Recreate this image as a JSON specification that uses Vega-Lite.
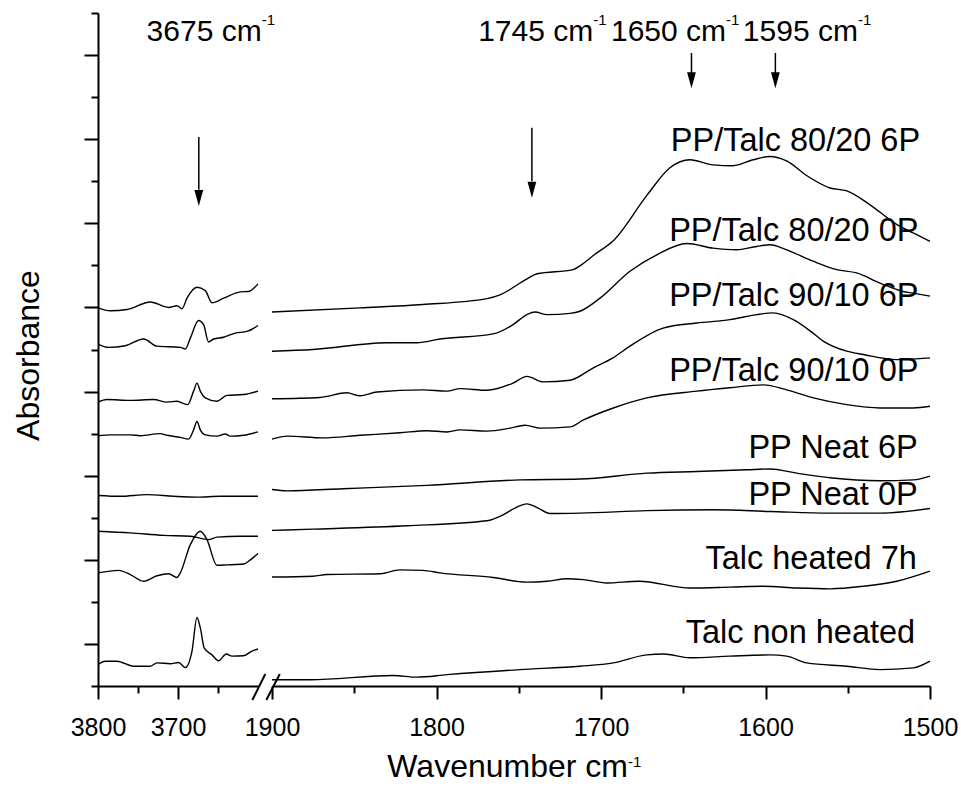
{
  "$schema": "https://vega.github.io/schema/vega-lite/v6.json",
  "padding": {"left": 12, "top": 12, "right": 0, "bottom": 0},
  "bounds": "flush",
  "spacing": 14,
  "config": {
    "view": {"stroke": null},
    "font": "Liberation Sans",
    "axis": {"domainColor": "black", "tickColor": "black", "labelColor": "black", "titleColor": "black", "labelFont": "Liberation Sans", "titleFont": "Liberation Sans", "grid": false, "domainWidth": 2, "tickWidth": 2, "titleFontWeight": "normal"},
    "text": {"font": "Liberation Sans", "color": "black"}
  },
  "datasets": {
    "spectra": [
      {"sample":"PP/Talc 80/20 6P","panel":"L","wn":3800,"abs":8.99},{"sample":"PP/Talc 80/20 6P","panel":"L","wn":3784.6,"abs":8.92},{"sample":"PP/Talc 80/20 6P","panel":"L","wn":3763.8,"abs":8.95},{"sample":"PP/Talc 80/20 6P","panel":"L","wn":3734.6,"abs":9.13},{"sample":"PP/Talc 80/20 6P","panel":"L","wn":3711.8,"abs":9.0},{"sample":"PP/Talc 80/20 6P","panel":"L","wn":3701.3,"abs":9.04},{"sample":"PP/Talc 80/20 6P","panel":"L","wn":3695,"abs":8.97},{"sample":"PP/Talc 80/20 6P","panel":"L","wn":3688.8,"abs":9.22},{"sample":"PP/Talc 80/20 6P","panel":"L","wn":3676.3,"abs":9.48},{"sample":"PP/Talc 80/20 6P","panel":"L","wn":3665.9,"abs":9.4},{"sample":"PP/Talc 80/20 6P","panel":"L","wn":3657.5,"abs":9.11},{"sample":"PP/Talc 80/20 6P","panel":"L","wn":3643,"abs":9.22},{"sample":"PP/Talc 80/20 6P","panel":"L","wn":3622.1,"abs":9.37},{"sample":"PP/Talc 80/20 6P","panel":"L","wn":3611.8,"abs":9.38},{"sample":"PP/Talc 80/20 6P","panel":"L","wn":3600,"abs":9.56},
      {"sample":"PP/Talc 80/20 0P","panel":"L","wn":3800,"abs":8.13},{"sample":"PP/Talc 80/20 0P","panel":"L","wn":3786.8,"abs":8.05},{"sample":"PP/Talc 80/20 0P","panel":"L","wn":3765.9,"abs":8.09},{"sample":"PP/Talc 80/20 0P","panel":"L","wn":3743,"abs":8.25},{"sample":"PP/Talc 80/20 0P","panel":"L","wn":3726.3,"abs":8.08},{"sample":"PP/Talc 80/20 0P","panel":"L","wn":3697.1,"abs":8.05},{"sample":"PP/Talc 80/20 0P","panel":"L","wn":3690.9,"abs":8.01},{"sample":"PP/Talc 80/20 0P","panel":"L","wn":3684.6,"abs":8.27},{"sample":"PP/Talc 80/20 0P","panel":"L","wn":3674.3,"abs":8.69},{"sample":"PP/Talc 80/20 0P","panel":"L","wn":3668,"abs":8.59},{"sample":"PP/Talc 80/20 0P","panel":"L","wn":3661.8,"abs":8.18},{"sample":"PP/Talc 80/20 0P","panel":"L","wn":3655.5,"abs":8.25},{"sample":"PP/Talc 80/20 0P","panel":"L","wn":3643,"abs":8.29},{"sample":"PP/Talc 80/20 0P","panel":"L","wn":3628.4,"abs":8.39},{"sample":"PP/Talc 80/20 0P","panel":"L","wn":3613.8,"abs":8.43},{"sample":"PP/Talc 80/20 0P","panel":"L","wn":3600,"abs":8.57},
      {"sample":"PP/Talc 90/10 6P","panel":"L","wn":3800,"abs":6.75},{"sample":"PP/Talc 90/10 6P","panel":"L","wn":3788.8,"abs":6.81},{"sample":"PP/Talc 90/10 6P","panel":"L","wn":3759.6,"abs":6.79},{"sample":"PP/Talc 90/10 6P","panel":"L","wn":3730.5,"abs":6.81},{"sample":"PP/Talc 90/10 6P","panel":"L","wn":3713.8,"abs":6.75},{"sample":"PP/Talc 90/10 6P","panel":"L","wn":3701.3,"abs":6.77},{"sample":"PP/Talc 90/10 6P","panel":"L","wn":3695,"abs":6.73},{"sample":"PP/Talc 90/10 6P","panel":"L","wn":3688,"abs":6.69},{"sample":"PP/Talc 90/10 6P","panel":"L","wn":3680.5,"abs":7.01},{"sample":"PP/Talc 90/10 6P","panel":"L","wn":3676.3,"abs":7.2},{"sample":"PP/Talc 90/10 6P","panel":"L","wn":3672.1,"abs":7.01},{"sample":"PP/Talc 90/10 6P","panel":"L","wn":3665.9,"abs":6.85},{"sample":"PP/Talc 90/10 6P","panel":"L","wn":3651.3,"abs":6.77},{"sample":"PP/Talc 90/10 6P","panel":"L","wn":3638.8,"abs":6.91},{"sample":"PP/Talc 90/10 6P","panel":"L","wn":3618,"abs":6.93},{"sample":"PP/Talc 90/10 6P","panel":"L","wn":3600,"abs":7.01},
      {"sample":"PP/Talc 90/10 0P","panel":"L","wn":3800,"abs":5.95},{"sample":"PP/Talc 90/10 0P","panel":"L","wn":3784.6,"abs":5.97},{"sample":"PP/Talc 90/10 0P","panel":"L","wn":3759.6,"abs":5.97},{"sample":"PP/Talc 90/10 0P","panel":"L","wn":3747.1,"abs":5.95},{"sample":"PP/Talc 90/10 0P","panel":"L","wn":3722.1,"abs":6.0},{"sample":"PP/Talc 90/10 0P","panel":"L","wn":3713.8,"abs":5.96},{"sample":"PP/Talc 90/10 0P","panel":"L","wn":3697.1,"abs":5.91},{"sample":"PP/Talc 90/10 0P","panel":"L","wn":3686.8,"abs":5.87},{"sample":"PP/Talc 90/10 0P","panel":"L","wn":3680.5,"abs":6.09},{"sample":"PP/Talc 90/10 0P","panel":"L","wn":3676.3,"abs":6.29},{"sample":"PP/Talc 90/10 0P","panel":"L","wn":3672.1,"abs":6.09},{"sample":"PP/Talc 90/10 0P","panel":"L","wn":3665.9,"abs":5.97},{"sample":"PP/Talc 90/10 0P","panel":"L","wn":3651.3,"abs":5.94},{"sample":"PP/Talc 90/10 0P","panel":"L","wn":3640.9,"abs":5.99},{"sample":"PP/Talc 90/10 0P","panel":"L","wn":3634.6,"abs":5.94},{"sample":"PP/Talc 90/10 0P","panel":"L","wn":3618,"abs":5.96},{"sample":"PP/Talc 90/10 0P","panel":"L","wn":3600,"abs":6.04},
      {"sample":"PP Neat 6P","panel":"L","wn":3800,"abs":4.53},{"sample":"PP Neat 6P","panel":"L","wn":3772.1,"abs":4.51},{"sample":"PP Neat 6P","panel":"L","wn":3738.8,"abs":4.55},{"sample":"PP Neat 6P","panel":"L","wn":3705.5,"abs":4.51},{"sample":"PP Neat 6P","panel":"L","wn":3676.3,"abs":4.49},{"sample":"PP Neat 6P","panel":"L","wn":3647.1,"abs":4.51},{"sample":"PP Neat 6P","panel":"L","wn":3600,"abs":4.51},
      {"sample":"PP Neat 0P","panel":"L","wn":3800,"abs":3.68},{"sample":"PP Neat 0P","panel":"L","wn":3759.6,"abs":3.64},{"sample":"PP Neat 0P","panel":"L","wn":3718,"abs":3.58},{"sample":"PP Neat 0P","panel":"L","wn":3684.6,"abs":3.56},{"sample":"PP Neat 0P","panel":"L","wn":3661.8,"abs":3.48},{"sample":"PP Neat 0P","panel":"L","wn":3651.3,"abs":3.54},{"sample":"PP Neat 0P","panel":"L","wn":3622.1,"abs":3.56},{"sample":"PP Neat 0P","panel":"L","wn":3600,"abs":3.56},
      {"sample":"Talc heated 7h","panel":"L","wn":3800,"abs":2.69},{"sample":"Talc heated 7h","panel":"L","wn":3774.3,"abs":2.75},{"sample":"Talc heated 7h","panel":"L","wn":3759.6,"abs":2.65},{"sample":"Talc heated 7h","panel":"L","wn":3743,"abs":2.49},{"sample":"Talc heated 7h","panel":"L","wn":3726.3,"abs":2.62},{"sample":"Talc heated 7h","panel":"L","wn":3711.8,"abs":2.67},{"sample":"Talc heated 7h","panel":"L","wn":3701.3,"abs":2.58},{"sample":"Talc heated 7h","panel":"L","wn":3697.1,"abs":2.69},{"sample":"Talc heated 7h","panel":"L","wn":3684.6,"abs":3.36},{"sample":"Talc heated 7h","panel":"L","wn":3672.1,"abs":3.68},{"sample":"Talc heated 7h","panel":"L","wn":3663.8,"abs":3.48},{"sample":"Talc heated 7h","panel":"L","wn":3651.3,"abs":2.87},{"sample":"Talc heated 7h","panel":"L","wn":3638.8,"abs":2.88},{"sample":"Talc heated 7h","panel":"L","wn":3618,"abs":2.9},{"sample":"Talc heated 7h","panel":"L","wn":3609.6,"abs":3.0},{"sample":"Talc heated 7h","panel":"L","wn":3600,"abs":3.15},
      {"sample":"Talc non heated","panel":"L","wn":3800,"abs":0.51},{"sample":"Talc non heated","panel":"L","wn":3790.9,"abs":0.59},{"sample":"Talc non heated","panel":"L","wn":3776.3,"abs":0.59},{"sample":"Talc non heated","panel":"L","wn":3755.5,"abs":0.47},{"sample":"Talc non heated","panel":"L","wn":3734.6,"abs":0.47},{"sample":"Talc non heated","panel":"L","wn":3726.3,"abs":0.55},{"sample":"Talc non heated","panel":"L","wn":3709.6,"abs":0.53},{"sample":"Talc non heated","panel":"L","wn":3699.3,"abs":0.56},{"sample":"Talc non heated","panel":"L","wn":3690.9,"abs":0.44},{"sample":"Talc non heated","panel":"L","wn":3682.5,"abs":0.83},{"sample":"Talc non heated","panel":"L","wn":3676.3,"abs":1.63},{"sample":"Talc non heated","panel":"L","wn":3672.1,"abs":1.38},{"sample":"Talc non heated","panel":"L","wn":3667.1,"abs":0.9},{"sample":"Talc non heated","panel":"L","wn":3657.5,"abs":0.74},{"sample":"Talc non heated","panel":"L","wn":3649.3,"abs":0.6},{"sample":"Talc non heated","panel":"L","wn":3639.6,"abs":0.76},{"sample":"Talc non heated","panel":"L","wn":3632.5,"abs":0.71},{"sample":"Talc non heated","panel":"L","wn":3618,"abs":0.72},{"sample":"Talc non heated","panel":"L","wn":3607.5,"abs":0.83},{"sample":"Talc non heated","panel":"L","wn":3600,"abs":0.88},
      {"sample":"PP/Talc 80/20 6P","panel":"R","wn":1900,"abs":8.89},{"sample":"PP/Talc 80/20 6P","panel":"R","wn":1846.5,"abs":8.99},{"sample":"PP/Talc 80/20 6P","panel":"R","wn":1808.2,"abs":9.07},{"sample":"PP/Talc 80/20 6P","panel":"R","wn":1769.3,"abs":9.21},{"sample":"PP/Talc 80/20 6P","panel":"R","wn":1761.4,"abs":9.3},{"sample":"PP/Talc 80/20 6P","panel":"R","wn":1745,"abs":9.68},{"sample":"PP/Talc 80/20 6P","panel":"R","wn":1738.9,"abs":9.8},{"sample":"PP/Talc 80/20 6P","panel":"R","wn":1717,"abs":9.9},{"sample":"PP/Talc 80/20 6P","panel":"R","wn":1712.8,"abs":9.99},{"sample":"PP/Talc 80/20 6P","panel":"R","wn":1703.5,"abs":10.27},{"sample":"PP/Talc 80/20 6P","panel":"R","wn":1692.7,"abs":10.58},{"sample":"PP/Talc 80/20 6P","panel":"R","wn":1672,"abs":11.67},{"sample":"PP/Talc 80/20 6P","panel":"R","wn":1658.1,"abs":12.32},{"sample":"PP/Talc 80/20 6P","panel":"R","wn":1645.9,"abs":12.51},{"sample":"PP/Talc 80/20 6P","panel":"R","wn":1631.9,"abs":12.39},{"sample":"PP/Talc 80/20 6P","panel":"R","wn":1619.8,"abs":12.37},{"sample":"PP/Talc 80/20 6P","panel":"R","wn":1607.6,"abs":12.51},{"sample":"PP/Talc 80/20 6P","panel":"R","wn":1597.3,"abs":12.59},{"sample":"PP/Talc 80/20 6P","panel":"R","wn":1586.9,"abs":12.48},{"sample":"PP/Talc 80/20 6P","panel":"R","wn":1574.8,"abs":12.13},{"sample":"PP/Talc 80/20 6P","panel":"R","wn":1560.8,"abs":11.84},{"sample":"PP/Talc 80/20 6P","panel":"R","wn":1550.5,"abs":11.77},{"sample":"PP/Talc 80/20 6P","panel":"R","wn":1536.5,"abs":11.44},{"sample":"PP/Talc 80/20 6P","panel":"R","wn":1520.1,"abs":10.97},{"sample":"PP/Talc 80/20 6P","panel":"R","wn":1510.3,"abs":10.77},{"sample":"PP/Talc 80/20 6P","panel":"R","wn":1500,"abs":10.57},
      {"sample":"PP/Talc 80/20 0P","panel":"R","wn":1900,"abs":7.96},{"sample":"PP/Talc 80/20 0P","panel":"R","wn":1875.1,"abs":8.0},{"sample":"PP/Talc 80/20 0P","panel":"R","wn":1830.1,"abs":8.16},{"sample":"PP/Talc 80/20 0P","panel":"R","wn":1811.9,"abs":8.16},{"sample":"PP/Talc 80/20 0P","panel":"R","wn":1797.9,"abs":8.25},{"sample":"PP/Talc 80/20 0P","panel":"R","wn":1765.7,"abs":8.37},{"sample":"PP/Talc 80/20 0P","panel":"R","wn":1753.5,"abs":8.59},{"sample":"PP/Talc 80/20 0P","panel":"R","wn":1745,"abs":8.83},{"sample":"PP/Talc 80/20 0P","panel":"R","wn":1740.1,"abs":8.89},{"sample":"PP/Talc 80/20 0P","panel":"R","wn":1732.8,"abs":8.83},{"sample":"PP/Talc 80/20 0P","panel":"R","wn":1718.8,"abs":8.86},{"sample":"PP/Talc 80/20 0P","panel":"R","wn":1712.8,"abs":8.91},{"sample":"PP/Talc 80/20 0P","panel":"R","wn":1700.6,"abs":9.22},{"sample":"PP/Talc 80/20 0P","panel":"R","wn":1682.4,"abs":9.86},{"sample":"PP/Talc 80/20 0P","panel":"R","wn":1666.1,"abs":10.25},{"sample":"PP/Talc 80/20 0P","panel":"R","wn":1647.9,"abs":10.52},{"sample":"PP/Talc 80/20 0P","panel":"R","wn":1631.9,"abs":10.41},{"sample":"PP/Talc 80/20 0P","panel":"R","wn":1617.5,"abs":10.37},{"sample":"PP/Talc 80/20 0P","panel":"R","wn":1605.4,"abs":10.45},{"sample":"PP/Talc 80/20 0P","panel":"R","wn":1597.3,"abs":10.49},{"sample":"PP/Talc 80/20 0P","panel":"R","wn":1587.1,"abs":10.37},{"sample":"PP/Talc 80/20 0P","panel":"R","wn":1571.1,"abs":10.1},{"sample":"PP/Talc 80/20 0P","panel":"R","wn":1556.7,"abs":9.9},{"sample":"PP/Talc 80/20 0P","panel":"R","wn":1544.6,"abs":9.82},{"sample":"PP/Talc 80/20 0P","panel":"R","wn":1530.4,"abs":9.58},{"sample":"PP/Talc 80/20 0P","panel":"R","wn":1516.4,"abs":9.38},{"sample":"PP/Talc 80/20 0P","panel":"R","wn":1510.3,"abs":9.34},{"sample":"PP/Talc 80/20 0P","panel":"R","wn":1500,"abs":9.27},
      {"sample":"PP/Talc 90/10 6P","panel":"R","wn":1900,"abs":6.83},{"sample":"PP/Talc 90/10 6P","panel":"R","wn":1870.8,"abs":6.86},{"sample":"PP/Talc 90/10 6P","panel":"R","wn":1854.4,"abs":6.97},{"sample":"PP/Talc 90/10 6P","panel":"R","wn":1846.5,"abs":6.9},{"sample":"PP/Talc 90/10 6P","panel":"R","wn":1836.2,"abs":6.99},{"sample":"PP/Talc 90/10 6P","panel":"R","wn":1808.2,"abs":7.04},{"sample":"PP/Talc 90/10 6P","panel":"R","wn":1793.6,"abs":7.01},{"sample":"PP/Talc 90/10 6P","panel":"R","wn":1785.7,"abs":7.07},{"sample":"PP/Talc 90/10 6P","panel":"R","wn":1769.3,"abs":7.03},{"sample":"PP/Talc 90/10 6P","panel":"R","wn":1753.5,"abs":7.2},{"sample":"PP/Talc 90/10 6P","panel":"R","wn":1745,"abs":7.36},{"sample":"PP/Talc 90/10 6P","panel":"R","wn":1735.3,"abs":7.23},{"sample":"PP/Talc 90/10 6P","panel":"R","wn":1718.8,"abs":7.27},{"sample":"PP/Talc 90/10 6P","panel":"R","wn":1704.9,"abs":7.56},{"sample":"PP/Talc 90/10 6P","panel":"R","wn":1692.7,"abs":7.8},{"sample":"PP/Talc 90/10 6P","panel":"R","wn":1682.4,"abs":8.08},{"sample":"PP/Talc 90/10 6P","panel":"R","wn":1662.3,"abs":8.51},{"sample":"PP/Talc 90/10 6P","panel":"R","wn":1641.8,"abs":8.63},{"sample":"PP/Talc 90/10 6P","panel":"R","wn":1621.6,"abs":8.71},{"sample":"PP/Talc 90/10 6P","panel":"R","wn":1605.4,"abs":8.83},{"sample":"PP/Talc 90/10 6P","panel":"R","wn":1595.3,"abs":8.87},{"sample":"PP/Talc 90/10 6P","panel":"R","wn":1583.1,"abs":8.71},{"sample":"PP/Talc 90/10 6P","panel":"R","wn":1571.1,"abs":8.39},{"sample":"PP/Talc 90/10 6P","panel":"R","wn":1564.9,"abs":8.2},{"sample":"PP/Talc 90/10 6P","panel":"R","wn":1550.6,"abs":7.96},{"sample":"PP/Talc 90/10 6P","panel":"R","wn":1540.5,"abs":7.88},{"sample":"PP/Talc 90/10 6P","panel":"R","wn":1520.2,"abs":7.76},{"sample":"PP/Talc 90/10 6P","panel":"R","wn":1500,"abs":7.8},
      {"sample":"PP/Talc 90/10 0P","panel":"R","wn":1900,"abs":5.87},{"sample":"PP/Talc 90/10 0P","panel":"R","wn":1890.9,"abs":5.94},{"sample":"PP/Talc 90/10 0P","panel":"R","wn":1869,"abs":5.9},{"sample":"PP/Talc 90/10 0P","panel":"R","wn":1846.5,"abs":5.96},{"sample":"PP/Talc 90/10 0P","panel":"R","wn":1822.2,"abs":6.02},{"sample":"PP/Talc 90/10 0P","panel":"R","wn":1805.8,"abs":6.07},{"sample":"PP/Talc 90/10 0P","panel":"R","wn":1793.6,"abs":6.04},{"sample":"PP/Talc 90/10 0P","panel":"R","wn":1785.7,"abs":6.09},{"sample":"PP/Talc 90/10 0P","panel":"R","wn":1769.3,"abs":6.06},{"sample":"PP/Talc 90/10 0P","panel":"R","wn":1755.3,"abs":6.13},{"sample":"PP/Talc 90/10 0P","panel":"R","wn":1746.2,"abs":6.2},{"sample":"PP/Talc 90/10 0P","panel":"R","wn":1737.1,"abs":6.13},{"sample":"PP/Talc 90/10 0P","panel":"R","wn":1718.8,"abs":6.16},{"sample":"PP/Talc 90/10 0P","panel":"R","wn":1710.9,"abs":6.32},{"sample":"PP/Talc 90/10 0P","panel":"R","wn":1692.5,"abs":6.61},{"sample":"PP/Talc 90/10 0P","panel":"R","wn":1672.2,"abs":6.85},{"sample":"PP/Talc 90/10 0P","panel":"R","wn":1641.8,"abs":7.01},{"sample":"PP/Talc 90/10 0P","panel":"R","wn":1621.6,"abs":7.09},{"sample":"PP/Talc 90/10 0P","panel":"R","wn":1601.3,"abs":7.16},{"sample":"PP/Talc 90/10 0P","panel":"R","wn":1587.1,"abs":7.04},{"sample":"PP/Talc 90/10 0P","panel":"R","wn":1570.9,"abs":6.85},{"sample":"PP/Talc 90/10 0P","panel":"R","wn":1550.6,"abs":6.69},{"sample":"PP/Talc 90/10 0P","panel":"R","wn":1530.4,"abs":6.61},{"sample":"PP/Talc 90/10 0P","panel":"R","wn":1510.2,"abs":6.61},{"sample":"PP/Talc 90/10 0P","panel":"R","wn":1500,"abs":6.65},
      {"sample":"PP Neat 6P","panel":"R","wn":1900,"abs":4.67},{"sample":"PP Neat 6P","panel":"R","wn":1890.9,"abs":4.64},{"sample":"PP Neat 6P","panel":"R","wn":1856.8,"abs":4.69},{"sample":"PP Neat 6P","panel":"R","wn":1805.8,"abs":4.77},{"sample":"PP Neat 6P","panel":"R","wn":1749.2,"abs":4.9},{"sample":"PP Neat 6P","panel":"R","wn":1712.8,"abs":4.92},{"sample":"PP Neat 6P","panel":"R","wn":1672.2,"abs":5.06},{"sample":"PP Neat 6P","panel":"R","wn":1641.8,"abs":5.1},{"sample":"PP Neat 6P","panel":"R","wn":1611.4,"abs":5.14},{"sample":"PP Neat 6P","panel":"R","wn":1597.3,"abs":5.16},{"sample":"PP Neat 6P","panel":"R","wn":1581,"abs":5.06},{"sample":"PP Neat 6P","panel":"R","wn":1560.8,"abs":4.95},{"sample":"PP Neat 6P","panel":"R","wn":1530.4,"abs":4.88},{"sample":"PP Neat 6P","panel":"R","wn":1510.2,"abs":4.9},{"sample":"PP Neat 6P","panel":"R","wn":1500,"abs":4.99},
      {"sample":"PP Neat 0P","panel":"R","wn":1900,"abs":3.7},{"sample":"PP Neat 0P","panel":"R","wn":1875.1,"abs":3.73},{"sample":"PP Neat 0P","panel":"R","wn":1817.9,"abs":3.81},{"sample":"PP Neat 0P","panel":"R","wn":1769.3,"abs":3.93},{"sample":"PP Neat 0P","panel":"R","wn":1759.6,"abs":4.07},{"sample":"PP Neat 0P","panel":"R","wn":1752.3,"abs":4.23},{"sample":"PP Neat 0P","panel":"R","wn":1745,"abs":4.33},{"sample":"PP Neat 0P","panel":"R","wn":1738.3,"abs":4.23},{"sample":"PP Neat 0P","panel":"R","wn":1731,"abs":4.1},{"sample":"PP Neat 0P","panel":"R","wn":1712.8,"abs":4.11},{"sample":"PP Neat 0P","panel":"R","wn":1672.2,"abs":4.17},{"sample":"PP Neat 0P","panel":"R","wn":1631.7,"abs":4.19},{"sample":"PP Neat 0P","panel":"R","wn":1597.3,"abs":4.15},{"sample":"PP Neat 0P","panel":"R","wn":1560.8,"abs":4.11},{"sample":"PP Neat 0P","panel":"R","wn":1530.4,"abs":4.11},{"sample":"PP Neat 0P","panel":"R","wn":1500,"abs":4.22},
      {"sample":"Talc heated 7h","panel":"R","wn":1900,"abs":2.59},{"sample":"Talc heated 7h","panel":"R","wn":1875.1,"abs":2.61},{"sample":"Talc heated 7h","panel":"R","wn":1866.6,"abs":2.65},{"sample":"Talc heated 7h","panel":"R","wn":1834.3,"abs":2.67},{"sample":"Talc heated 7h","panel":"R","wn":1822.2,"abs":2.76},{"sample":"Talc heated 7h","panel":"R","wn":1808.2,"abs":2.75},{"sample":"Talc heated 7h","panel":"R","wn":1797.9,"abs":2.69},{"sample":"Talc heated 7h","panel":"R","wn":1765.7,"abs":2.58},{"sample":"Talc heated 7h","panel":"R","wn":1745,"abs":2.47},{"sample":"Talc heated 7h","panel":"R","wn":1732.8,"abs":2.49},{"sample":"Talc heated 7h","panel":"R","wn":1720.7,"abs":2.55},{"sample":"Talc heated 7h","panel":"R","wn":1710.9,"abs":2.53},{"sample":"Talc heated 7h","panel":"R","wn":1696.4,"abs":2.45},{"sample":"Talc heated 7h","panel":"R","wn":1676.9,"abs":2.49},{"sample":"Talc heated 7h","panel":"R","wn":1645.9,"abs":2.33},{"sample":"Talc heated 7h","panel":"R","wn":1621.6,"abs":2.35},{"sample":"Talc heated 7h","panel":"R","wn":1601.3,"abs":2.37},{"sample":"Talc heated 7h","panel":"R","wn":1581,"abs":2.33},{"sample":"Talc heated 7h","panel":"R","wn":1560.8,"abs":2.31},{"sample":"Talc heated 7h","panel":"R","wn":1540.5,"abs":2.37},{"sample":"Talc heated 7h","panel":"R","wn":1520.2,"abs":2.49},{"sample":"Talc heated 7h","panel":"R","wn":1500,"abs":2.73},
      {"sample":"Talc non heated","panel":"R","wn":1900,"abs":0.15},{"sample":"Talc non heated","panel":"R","wn":1876.9,"abs":0.15},{"sample":"Talc non heated","panel":"R","wn":1826.4,"abs":0.25},{"sample":"Talc non heated","panel":"R","wn":1811.9,"abs":0.21},{"sample":"Talc non heated","panel":"R","wn":1793.6,"abs":0.27},{"sample":"Talc non heated","panel":"R","wn":1749.2,"abs":0.39},{"sample":"Talc non heated","panel":"R","wn":1712.8,"abs":0.47},{"sample":"Talc non heated","panel":"R","wn":1692.5,"abs":0.55},{"sample":"Talc non heated","panel":"R","wn":1672.2,"abs":0.74},{"sample":"Talc non heated","panel":"R","wn":1662.1,"abs":0.76},{"sample":"Talc non heated","panel":"R","wn":1645.9,"abs":0.67},{"sample":"Talc non heated","panel":"R","wn":1621.6,"abs":0.71},{"sample":"Talc non heated","panel":"R","wn":1597.3,"abs":0.74},{"sample":"Talc non heated","panel":"R","wn":1587.1,"abs":0.71},{"sample":"Talc non heated","panel":"R","wn":1574.9,"abs":0.55},{"sample":"Talc non heated","panel":"R","wn":1550.6,"abs":0.47},{"sample":"Talc non heated","panel":"R","wn":1530.4,"abs":0.39},{"sample":"Talc non heated","panel":"R","wn":1510.2,"abs":0.43},{"sample":"Talc non heated","panel":"R","wn":1500,"abs":0.59}
    ],
    "labels": [
      {"sample":"PP/Talc 80/20 6P","wn":1506,"abs":12.71},
      {"sample":"PP/Talc 80/20 0P","wn":1507,"abs":10.59},
      {"sample":"PP/Talc 90/10 6P","wn":1507,"abs":9.03},
      {"sample":"PP/Talc 90/10 0P","wn":1507,"abs":7.26},
      {"sample":"PP Neat 6P","wn":1507.5,"abs":5.42},
      {"sample":"PP Neat 0P","wn":1507.5,"abs":4.31},
      {"sample":"Talc heated 7h","wn":1508,"abs":2.79},
      {"sample":"Talc non heated","wn":1509,"abs":1.02}
    ],
    "notes": [
      {"panel":"L","kind":"main","text":"3675 cm","wn":3595.4,"abs":15.33},
      {"panel":"L","kind":"sup","text":"-1","wn":3595.4,"abs":15.72},
      {"panel":"R","kind":"main","text":"1745 cm","wn":1704.7,"abs":15.33},
      {"panel":"R","kind":"sup","text":"-1","wn":1704.7,"abs":15.72},
      {"panel":"R","kind":"main","text":"1650 cm","wn":1624.0,"abs":15.33},
      {"panel":"R","kind":"sup","text":"-1","wn":1624.0,"abs":15.72},
      {"panel":"R","kind":"main","text":"1595 cm","wn":1543.8,"abs":15.33},
      {"panel":"R","kind":"sup","text":"-1","wn":1543.8,"abs":15.72},
      {"panel":"R","kind":"title","text":"Wavenumber cm","wn":1683.6,"abs":-2.17},
      {"panel":"R","kind":"sup","text":"-1","wn":1683.6,"abs":-1.93}
    ],
    "arrows": [
      {"panel":"L","wn":3674,"abs":13.05,"abs2":11.8},
      {"panel":"R","wn":1742,"abs":13.27,"abs2":12.0},
      {"panel":"R","wn":1645,"abs":15.05,"abs2":14.57},
      {"panel":"R","wn":1594,"abs":15.05,"abs2":14.57}
    ],
    "heads": [
      {"panel":"L","wn":3674,"abs":11.6},
      {"panel":"R","wn":1742,"abs":11.8},
      {"panel":"R","wn":1645,"abs":14.4},
      {"panel":"R","wn":1594,"abs":14.4}
    ],
    "breaks": [
      {"wn":3607.1,"wn2":3590.9,"abs":-0.333,"abs2":0.285},
      {"wn":3589.6,"wn2":3572.75,"abs":-0.333,"abs2":0.285}
    ]
  },
  "hconcat": [
    {
      "width": 160,
      "height": 673,
      "encoding": {
        "x": {"field": "wn", "type": "quantitative", "scale": {"domain": [3800, 3600], "nice": false, "zero": false},
          "axis": {"values": [3800, 3750, 3700, 3650], "format": "d", "labelExpr": "datum.value % 100 == 0 ? datum.label : ''",
            "tickSize": {"condition": {"test": "datum.value % 100 == 0", "value": 13}, "value": 7},
            "labelFontSize": 25, "labelPadding": 16, "labelFlush": false, "labelOverlap": false, "title": null}},
        "y": {"field": "abs", "type": "quantitative", "scale": {"domain": [0, 16], "nice": false, "zero": false},
          "axis": {"values": [0,1,2,3,4,5,6,7,8,9,10,11,12,13,14,15,16], "labels": false,
            "tickSize": {"condition": {"test": "datum.value % 2 == 1", "value": 14}, "value": 7},
            "title": "Absorbance", "titleFontSize": 32, "titlePadding": 38, "titleY": 342}}
      },
      "layer": [
        {
          "data": {"name": "spectra"},
          "transform": [{"filter": "datum.panel == 'L'"}],
          "mark": {"type": "line", "color": "black", "strokeWidth": 1.4, "interpolate": "monotone"},
          "encoding": {"detail": {"field": "sample"}}
        },
        {
          "data": {"name": "arrows"},
          "transform": [{"filter": "datum.panel == 'L'"}],
          "mark": {"type": "rule", "color": "black", "strokeWidth": 1.5},
          "encoding": {"y2": {"field": "abs2"}}
        },
        {
          "data": {"name": "heads"},
          "transform": [{"filter": "datum.panel == 'L'"}],
          "mark": {"type": "point", "shape": "M-0.55,-1L0.55,-1L0,1Z", "filled": true, "color": "black", "size": 256, "opacity": 1, "strokeWidth": 0},
          "encoding": {}
        },
        {
          "data": {"name": "notes"},
          "transform": [{"filter": "datum.panel == 'L' && datum.kind == 'main'"}],
          "mark": {"type": "text", "align": "right", "baseline": "alphabetic", "fontSize": 30},
          "encoding": {"text": {"field": "text"}}
        },
        {
          "data": {"name": "notes"},
          "transform": [{"filter": "datum.panel == 'L' && datum.kind == 'sup'"}],
          "mark": {"type": "text", "align": "left", "baseline": "alphabetic", "fontSize": 15},
          "encoding": {"text": {"field": "text"}}
        },
        {
          "data": {"name": "breaks"},
          "mark": {"type": "rule", "color": "black", "strokeWidth": 2},
          "encoding": {"x2": {"field": "wn2"}, "y2": {"field": "abs2"}}
        }
      ]
    },
    {
      "width": 658,
      "height": 673,
      "encoding": {
        "x": {"field": "wn", "type": "quantitative", "scale": {"domain": [1900, 1500], "nice": false, "zero": false},
          "axis": {"values": [1900, 1850, 1800, 1750, 1700, 1650, 1600, 1550, 1500], "format": "d", "labelExpr": "datum.value % 100 == 0 ? datum.label : ''",
            "tickSize": {"condition": {"test": "datum.value % 100 == 0", "value": 13}, "value": 7},
            "labelFontSize": 25, "labelPadding": 16, "labelFlush": false, "labelOverlap": false, "title": null}},
        "y": {"field": "abs", "type": "quantitative", "scale": {"domain": [0, 16], "nice": false, "zero": false}, "axis": null}
      },
      "layer": [
        {
          "data": {"name": "spectra"},
          "transform": [{"filter": "datum.panel == 'R'"}],
          "mark": {"type": "line", "color": "black", "strokeWidth": 1.4, "interpolate": "monotone"},
          "encoding": {"detail": {"field": "sample"}}
        },
        {
          "data": {"name": "labels"},
          "mark": {"type": "text", "align": "right", "baseline": "alphabetic", "fontSize": 32.5},
          "encoding": {"text": {"field": "sample"}}
        },
        {
          "data": {"name": "arrows"},
          "transform": [{"filter": "datum.panel == 'R'"}],
          "mark": {"type": "rule", "color": "black", "strokeWidth": 1.5},
          "encoding": {"y2": {"field": "abs2"}}
        },
        {
          "data": {"name": "heads"},
          "transform": [{"filter": "datum.panel == 'R'"}],
          "mark": {"type": "point", "shape": "M-0.55,-1L0.55,-1L0,1Z", "filled": true, "color": "black", "size": 256, "opacity": 1, "strokeWidth": 0},
          "encoding": {}
        },
        {
          "data": {"name": "notes"},
          "transform": [{"filter": "datum.panel == 'R' && datum.kind == 'main'"}],
          "mark": {"type": "text", "align": "right", "baseline": "alphabetic", "fontSize": 30},
          "encoding": {"text": {"field": "text"}}
        },
        {
          "data": {"name": "notes"},
          "transform": [{"filter": "datum.panel == 'R' && datum.kind == 'title'"}],
          "mark": {"type": "text", "align": "right", "baseline": "alphabetic", "fontSize": 32},
          "encoding": {"text": {"field": "text"}}
        },
        {
          "data": {"name": "notes"},
          "transform": [{"filter": "datum.panel == 'R' && datum.kind == 'sup'"}],
          "mark": {"type": "text", "align": "left", "baseline": "alphabetic", "fontSize": 15},
          "encoding": {"text": {"field": "text"}}
        }
      ]
    }
  ]
}
